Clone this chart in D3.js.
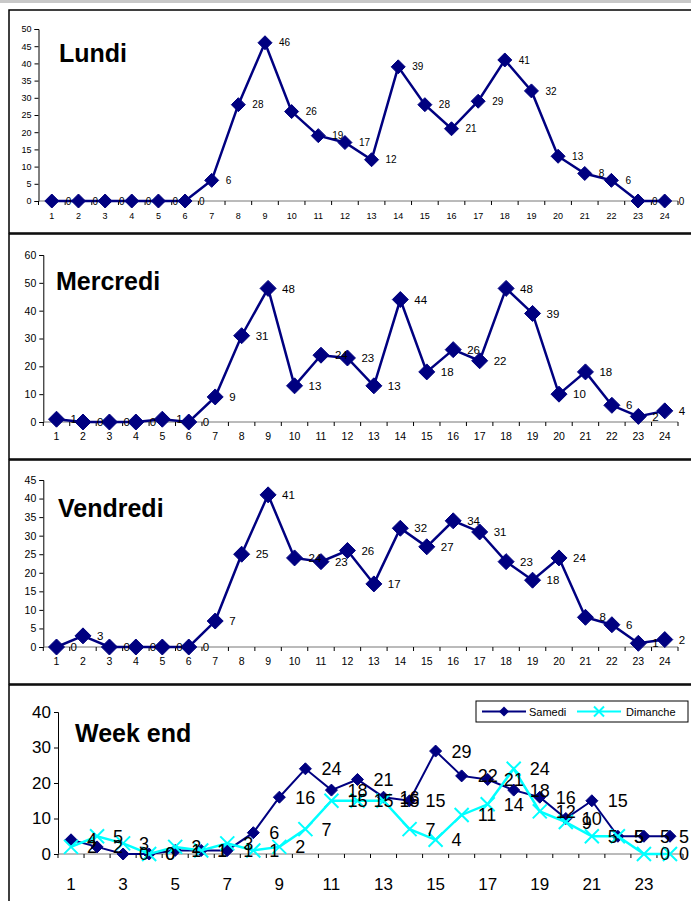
<!DOCTYPE html>
<html>
<head>
<meta charset="utf-8">
<title>Fréquentation par heure</title>
<script src="https://cdn.jsdelivr.net/npm/d3@7/dist/d3.min.js"></script>
<style>
  body { margin: 0; background: #fff; }
  svg { display: block; font-family: Arial, "Liberation Sans", sans-serif; }
</style>
</head>
<body>
<svg id="chart" width="691" height="901"></svg>
<script>
// hours 1..24
var hours = d3.range(1, 25)

var lundi    = [0,0,0,0,0,0,6,28,46,26,19,17,12,39,28,21,29,41,32,13,8,6,0,0]
var mercredi = [1,0,0,0,1,0,9,31,48,13,24,23,13,44,18,26,22,48,39,10,18,6,2,4]
var vendredi = [0,3,0,0,0,0,7,25,41,24,23,26,17,32,27,34,31,23,18,24,8,6,1,2]
var samedi   = [4,2,0,0,1,1,1,6,16,24,18,21,16,15,29,22,21,18,16,10,15,5,5,5]
var dimanche = [2,5,3,0,2,1,3,1,2,7,15,15,15,7,4,11,14,24,12,9,5,5,0,0]

var navy = '#000080', cyan = '#00ffff'

var svg = d3.select('#chart')

// gray strip at the very top
svg.append('rect').attr('x', 0).attr('y', 0).attr('width', 691).attr('height', 3).attr('fill', '#c8c8c8')

var panels = [
  {title: 'Lundi', top: 10, bottom: 233, x0: 38.5, x1: 678, y0: 201, y1: 29, max: 50, step: 5,
   series: [{values: lundi, color: navy, mark: 'diamond', r: 7, width: 2.5}],
   tickFont: 9, labelFont: 10, titleX: 59, titleY: 62, allTicks: true},
  {title: 'Mercredi', top: 234, bottom: 459, x0: 43.3, x1: 678, y0: 422, y1: 255, max: 60, step: 10,
   series: [{values: mercredi, color: navy, mark: 'diamond', r: 8, width: 2.5}],
   tickFont: 10.5, labelFont: 11.5, titleX: 56, titleY: 290, allTicks: true},
  {title: 'Vendredi', top: 460, bottom: 684, x0: 43.3, x1: 678, y0: 647, y1: 480, max: 45, step: 5,
   series: [{values: vendredi, color: navy, mark: 'diamond', r: 8, width: 2.5}],
   tickFont: 10.5, labelFont: 11.5, titleX: 58, titleY: 517, allTicks: true},
  {title: 'Week end', top: 685, bottom: 910, x0: 58, x1: 683, y0: 854, y1: 712, max: 40, step: 10,
   series: [{values: samedi, color: navy, mark: 'diamond', r: 6, width: 2, name: 'Samedi'},
            {values: dimanche, color: cyan, mark: 'cross', r: 7, width: 2.5, name: 'Dimanche'}],
   tickFont: 17, labelFont: 18, titleX: 75, titleY: 742, allTicks: false}
]

function diamond(r) { return 'M0,' + (-r) + 'L' + r + ',0L0,' + r + 'L' + (-r) + ',0Z' }
function cross(r) { return 'M' + (-r) + ',' + (-r) + 'L' + r + ',' + r + 'M' + r + ',' + (-r) + 'L' + (-r) + ',' + r }

function drawMarks(g, s, pts) {
  if (s.mark === 'diamond') {
    g.selectAll(null).data(pts).enter().append('path')
      .attr('transform', function(d) { return 'translate(' + d[0] + ',' + d[1] + ')' })
      .attr('d', diamond(s.r)).attr('fill', s.color).attr('stroke', s.color).attr('stroke-width', 1)
  } else {
    g.selectAll(null).data(pts).enter().append('path')
      .attr('transform', function(d) { return 'translate(' + d[0] + ',' + d[1] + ')' })
      .attr('d', cross(s.r)).attr('fill', 'none').attr('stroke', s.color).attr('stroke-width', 2)
  }
}

panels.forEach(function(p) {
  svg.append('rect')
    .attr('x', 9).attr('y', p.top).attr('width', 720).attr('height', p.bottom - p.top)
    .attr('fill', 'none').attr('stroke', '#000').attr('stroke-width', 1.5)

  var x = d3.scaleBand().domain(hours).range([p.x0, p.x1])
  var y = d3.scaleLinear().domain([0, p.max]).range([p.y0, p.y1])
  var cx = function(h) { return x(h) + x.bandwidth() / 2 }

  var g = svg.append('g')

  // y axis
  var yAxis = d3.axisLeft(y).tickValues(d3.range(0, p.max + 0.001, p.step)).tickSize(4).tickPadding(3)
  var ya = g.append('g').attr('transform', 'translate(' + p.x0 + ',0)').call(yAxis)
  ya.selectAll('text').attr('font-size', p.tickFont).attr('fill', '#000').attr('font-family', 'Arial, "Liberation Sans"')
  ya.selectAll('line, path').attr('stroke', '#000')

  // x axis: line plus ticks between categories
  g.append('line').attr('x1', p.x0).attr('x2', p.x1).attr('y1', p.y0).attr('y2', p.y0)
    .attr('stroke', '#777').attr('stroke-width', 1)
  var bounds = hours.map(function(h) { return x(h) }).concat([p.x1])
  g.selectAll(null).data(bounds).enter().append('line')
    .attr('x1', function(d) { return d }).attr('x2', function(d) { return d })
    .attr('y1', p.y0).attr('y2', p.y0 + 4).attr('stroke', '#000')
  var shown = p.allTicks ? hours : hours.filter(function(h) { return h % 2 === 1 })
  g.selectAll(null).data(shown).enter().append('text')
    .attr('x', function(h) { return cx(h) })
    .attr('y', p.allTicks ? p.y0 + 18 : p.y0 + 36)
    .attr('text-anchor', 'middle').attr('font-size', p.tickFont).attr('fill', '#000')
    .text(function(h) { return h })

  // title
  g.append('text').attr('x', p.titleX).attr('y', p.titleY)
    .attr('font-size', 25).attr('font-weight', 'bold').attr('fill', '#000')
    .text(p.title)

  var line = d3.line()
  p.series.forEach(function(s) {
    var pts = s.values.map(function(v, i) { return [cx(hours[i]), y(v)] })
    g.append('path').attr('d', line(pts)).attr('fill', 'none')
      .attr('stroke', s.color).attr('stroke-width', s.width)
    drawMarks(g, s, pts)
  })
  // data labels drawn after all lines; pulled back in if they would run off the right edge
  p.series.forEach(function(s) {
    g.selectAll(null).data(s.values).enter().append('text')
      .attr('x', function(v, i) { return cx(hours[i]) + (p.allTicks ? 14 : 16) })
      .attr('y', function(v) { return y(v) })
      .attr('dy', '0.36em').attr('font-size', p.labelFont).attr('fill', '#000')
      .text(function(v) { return v })
      .each(function() {
        var t = d3.select(this), w = this.getComputedTextLength(), lx = +t.attr('x')
        if (lx + w > 689) t.attr('x', 689 - w)
      })
  })

  // legend (week end only)
  if (p.series.length > 1) {
    var lg = svg.append('g').attr('transform', 'translate(476,701)')
    lg.append('rect').attr('width', 212).attr('height', 21).attr('fill', '#fff').attr('stroke', '#000').attr('stroke-width', 1)
    var items = [{s: p.series[0], lx: 6, tx: 53}, {s: p.series[1], lx: 101, tx: 150}]
    items.forEach(function(it) {
      lg.append('line').attr('x1', it.lx).attr('x2', it.lx + 44).attr('y1', 10.5).attr('y2', 10.5)
        .attr('stroke', it.s.color).attr('stroke-width', 2)
      var m = lg.append('path').attr('transform', 'translate(' + (it.lx + 22) + ',10.5)')
      if (it.s.mark === 'diamond') m.attr('d', diamond(5)).attr('fill', it.s.color)
      else m.attr('d', cross(5)).attr('fill', 'none').attr('stroke', it.s.color).attr('stroke-width', 2)
      lg.append('text').attr('x', it.tx).attr('y', 14.5).attr('font-size', 11).attr('fill', '#000').text(it.s.name)
    })
  }
})
</script>
</body>
</html>
